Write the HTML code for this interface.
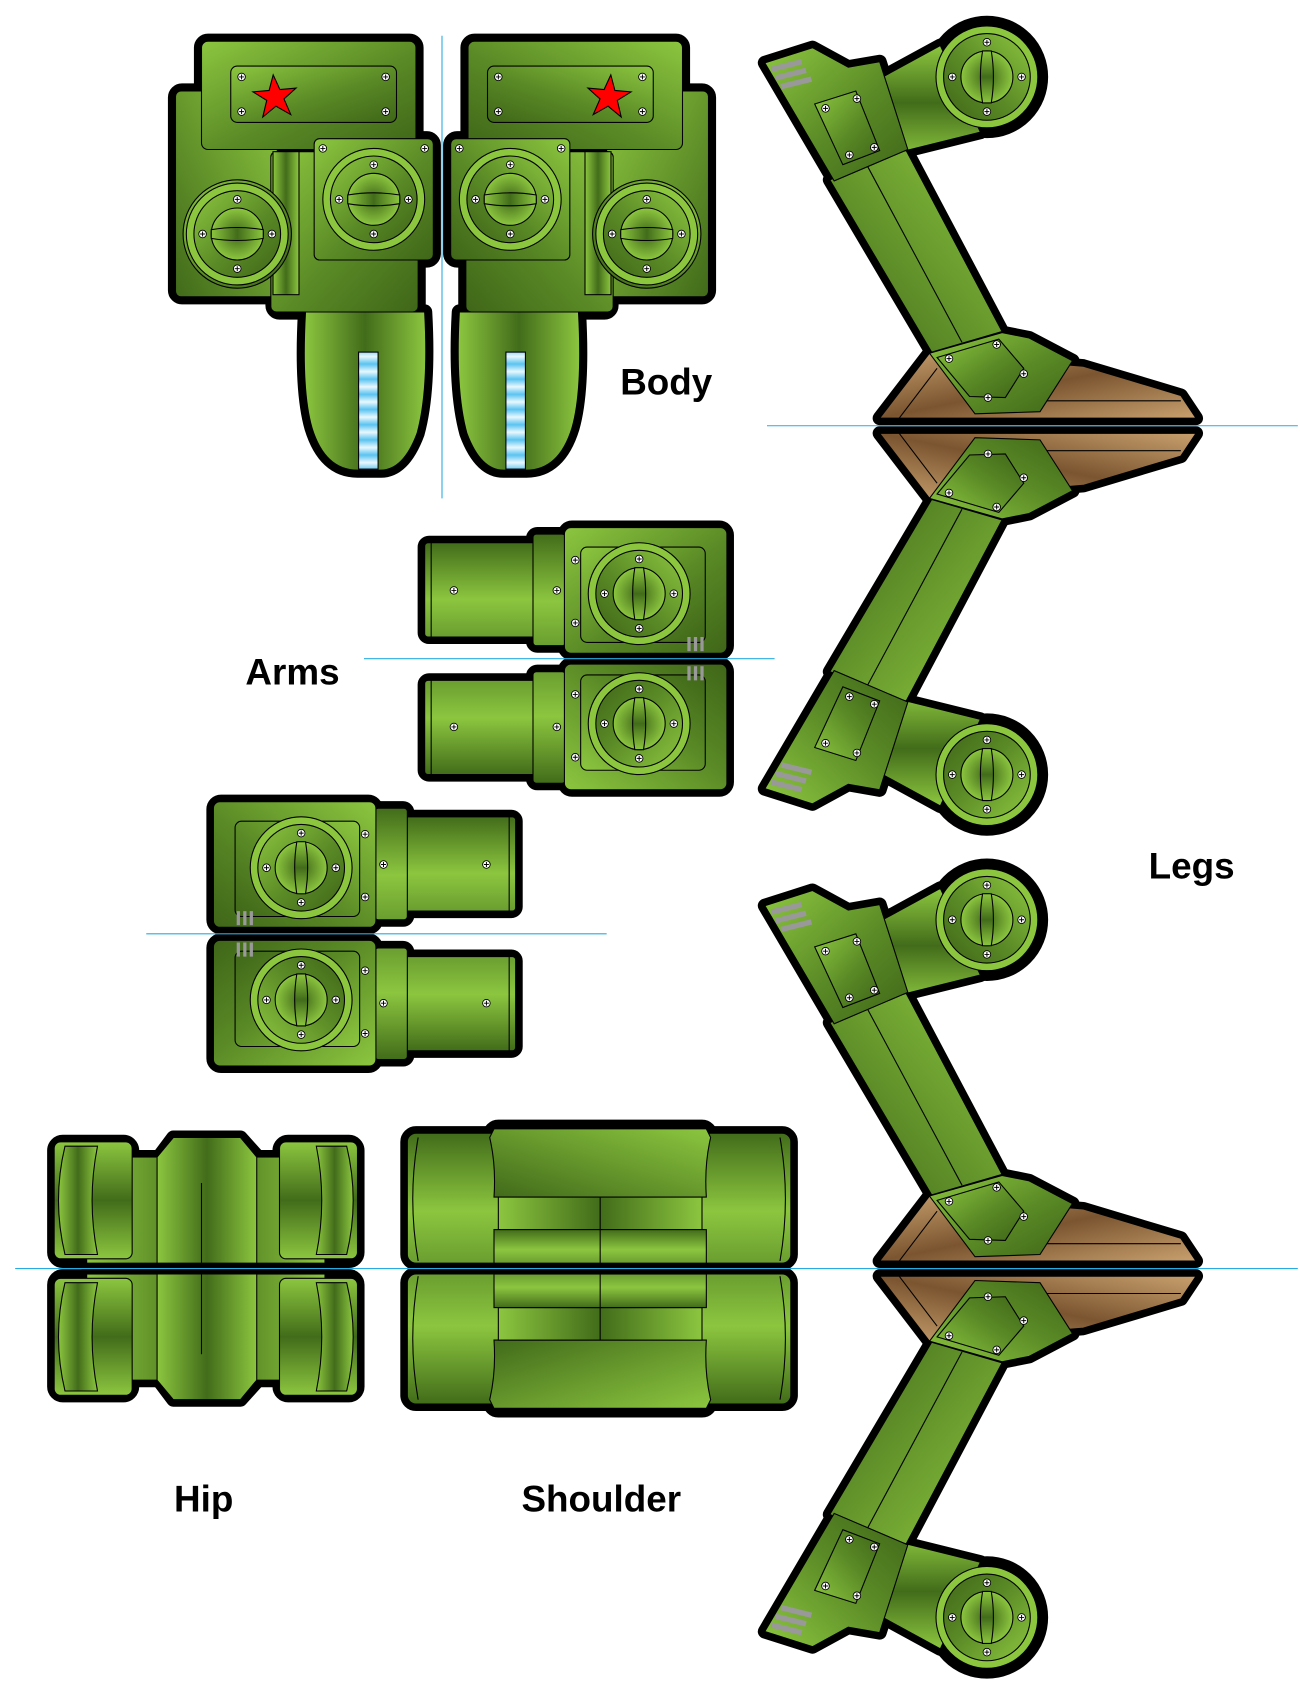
<!DOCTYPE html>
<html><head><meta charset="utf-8"><style>html,body{margin:0;padding:0;background:#fff}svg{display:block}</style></head>
<body>
<svg width="1300" height="1700" viewBox="0 0 1200 1569.2" xmlns="http://www.w3.org/2000/svg" xmlns:xlink="http://www.w3.org/1999/xlink">
<defs>
<linearGradient id="gD" x1="0" y1="0" x2="1" y2="1"><stop offset="0" stop-color="#8cc63f"/><stop offset="0.55" stop-color="#5a8a26"/><stop offset="1" stop-color="#3f6618"/></linearGradient>
<linearGradient id="gD2" x1="1" y1="0" x2="0" y2="1"><stop offset="0" stop-color="#8cc63f"/><stop offset="1" stop-color="#416a1a"/></linearGradient>
<linearGradient id="gH" x1="0" y1="0" x2="1" y2="0"><stop offset="0" stop-color="#8cc63f"/><stop offset="0.5" stop-color="#426c1a"/><stop offset="1" stop-color="#8cc63f"/></linearGradient>
<linearGradient id="gV" x1="0" y1="0" x2="0" y2="1"><stop offset="0" stop-color="#8cc63f"/><stop offset="0.5" stop-color="#426c1a"/><stop offset="1" stop-color="#8cc63f"/></linearGradient>
<linearGradient id="gV2" x1="0" y1="0" x2="0" y2="1"><stop offset="0" stop-color="#426c1a"/><stop offset="0.6" stop-color="#8cc63f"/><stop offset="1" stop-color="#6a9e30"/></linearGradient>
<linearGradient id="gB" x1="0" y1="0" x2="1" y2="1"><stop offset="0" stop-color="#c8a06e"/><stop offset="0.5" stop-color="#7b5530"/><stop offset="1" stop-color="#c8a06e"/></linearGradient>
<linearGradient id="gBlue" x1="0" y1="0" x2="0" y2="14" spreadMethod="repeat" gradientUnits="userSpaceOnUse"><stop offset="0" stop-color="#5bc3f0"/><stop offset="0.5" stop-color="#e8f8ff"/><stop offset="1" stop-color="#5bc3f0"/></linearGradient>
<radialGradient id="gR" cx="0.5" cy="0.5" r="0.5"><stop offset="0" stop-color="#3f6618"/><stop offset="1" stop-color="#8cc63f"/></radialGradient>
<g id="screw"><circle r="3.5" fill="#fff" stroke="#000" stroke-width="0.8"/><path d="M-2.3 0H2.3M0 -2.3V2.3" stroke="#000" stroke-width="0.9"/></g>
<g id="bdisk">
<circle r="47" fill="#8cc63f" stroke="#000" stroke-width="1"/>
<circle r="40" fill="url(#gD)" stroke="#000" stroke-width="1"/>
<circle r="24" fill="url(#gR)" stroke="#000" stroke-width="1"/>
<path d="M-24 -4 Q0 -8 24 -4 L24 4 Q0 8 -24 4 Z" fill="url(#gH)" stroke="#000" stroke-width="1"/>
<use href="#screw" x="0" y="-32"/><use href="#screw" x="0" y="32"/><use href="#screw" x="-32" y="0"/><use href="#screw" x="32" y="0"/>
</g>
</defs>

<!-- BODY -->
<g id="body">
<g stroke="#000" stroke-width="14" stroke-linejoin="round" fill="#000">
<rect x="162" y="84" width="94" height="190" rx="6"/>
<rect x="252" y="140" width="134" height="148" rx="6"/>
<rect x="186" y="38" width="198" height="100" rx="6"/>
<rect x="290" y="128" width="110" height="112" rx="6"/>
<path d="M282 288 H392 Q396 360 385 400 Q372 435 350 434 H330 Q300 434 288 395 Q278 360 282 288Z"/>
</g>
<rect x="162" y="84" width="94" height="190" rx="5" fill="url(#gD2)" stroke="#000"/>
<rect x="250" y="140" width="136" height="148" rx="5" fill="url(#gD)" stroke="#000"/>
<rect x="252" y="140" width="24" height="132" fill="url(#gH)" stroke="#000"/>
<path d="M282 288 H392 Q396 360 385 400 Q372 435 350 434 H330 Q300 434 288 395 Q278 360 282 288Z" fill="url(#gH)" stroke="#000"/>
<rect x="331" y="325" width="18" height="108" fill="url(#gBlue)" stroke="#000"/>
<rect x="186" y="38" width="198" height="100" rx="6" fill="url(#gD)" stroke="#000"/>
<rect x="213" y="61" width="153" height="52" rx="6" fill="url(#gD)" stroke="#000"/>
<path d="M254 69 L259 83 L274 83 L262 92 L267 107 L254 98 L241 107 L246 92 L234 83 L249 83Z" transform="rotate(-5 254 90)" fill="#f00" stroke="#000"/>
<use href="#screw" x="223" y="71"/><use href="#screw" x="356" y="71"/><use href="#screw" x="223" y="103"/><use href="#screw" x="356" y="103"/>
<rect x="290" y="128" width="110" height="112" rx="5" fill="url(#gD)" stroke="#000"/>
<use href="#screw" x="298" y="137"/><use href="#screw" x="392" y="137"/>
<use href="#bdisk" x="345" y="184"/>
<circle cx="219" cy="216" r="50" fill="url(#gD)" stroke="#000"/>
<use href="#bdisk" x="219" y="216"/>
</g>
<use href="#body" transform="translate(816,0) scale(-1,1)"/>
<line x1="408" y1="33" x2="408" y2="460" stroke="#29abe2" stroke-width="1"/>

<!-- ARMS -->
<g id="arm">
<g stroke="#000" stroke-width="13" stroke-linejoin="round" fill="#000">
<rect x="392" y="501" width="135" height="87" rx="4"/>
<rect x="492" y="493" width="40" height="103" rx="4"/>
<rect x="521" y="487" width="150" height="116" rx="7"/>
</g>
<rect x="392" y="501" width="135" height="87" rx="3" fill="url(#gV2)" stroke="#000"/>
<line x1="398" y1="501" x2="398" y2="588" stroke="#000"/>
<rect x="492" y="493" width="30" height="103" rx="3" fill="url(#gV2)" stroke="#000"/>
<use href="#screw" x="419" y="545"/><use href="#screw" x="514" y="545"/>
<rect x="521" y="487" width="150" height="116" rx="6" fill="url(#gD)" stroke="#000"/>
<rect x="536" y="505" width="115" height="88" rx="6" fill="url(#gD)" stroke="#000"/>
<use href="#screw" x="531" y="517"/><use href="#screw" x="531" y="575"/>
<g transform="translate(590,548) rotate(90)"><use href="#bdisk"/></g>
<path d="M636 588v13M642 588v13M648 588v13" stroke="#999" stroke-width="3"/>
</g>
<use href="#arm" transform="translate(0,1216) scale(1,-1)"/>
<g id="arm2"><use href="#arm" transform="translate(868,253) scale(-1,1)"/></g>
<use href="#arm2" transform="translate(0,1724) scale(1,-1)"/>
<line x1="336" y1="608" x2="715" y2="608" stroke="#29abe2"/>
<line x1="135" y1="862" x2="560" y2="862" stroke="#29abe2"/>

<!-- LEGS -->
<g id="leg">
<g stroke="#000" stroke-width="13" stroke-linejoin="round" fill="#000">
<polygon points="812,386 858,326 900,330 1000,338 1090,365 1104,386"/>
<polygon points="766,166 836,138 925,306 860,325"/>
<polygon points="780,90 868,42 905,122 800,148"/>
<polygon points="706,58 750,44 783,62 812,57 838,138 770,167"/>
<polygon points="858,326 925,307 950,312 990,333 960,380 900,382"/>
<circle cx="911" cy="71" r="50"/>
</g>
<polygon points="812,386 858,326 900,330 1000,338 1090,365 1104,386" fill="url(#gB)" stroke="#000"/>
<line x1="960" y1="370" x2="1090" y2="370" stroke="#000"/>
<line x1="830" y1="386" x2="865" y2="340" stroke="#000"/>
<polygon points="766,166 836,138 925,306 860,325" fill="url(#gD2)" stroke="#000"/>
<line x1="800" y1="152" x2="888" y2="316" stroke="#000"/>
<polygon points="780,90 868,42 905,122 800,148" fill="url(#gV)" stroke="#000"/>
<polygon points="706,58 750,44 783,62 812,57 838,138 770,167" fill="url(#gD)" stroke="#000"/>
<path d="M712 64l28-7M716 72l28-7M721 80l28-7" stroke="#999" stroke-width="5"/>
<polygon points="752,96 790,84 812,139 778,152" fill="url(#gD)" stroke="#000"/>
<use href="#screw" x="762" y="100"/><use href="#screw" x="791" y="91"/><use href="#screw" x="784" y="143"/><use href="#screw" x="807" y="136"/>
<polygon points="858,326 925,307 950,312 990,333 960,380 900,382" fill="url(#gD)" stroke="#000"/>
<polygon points="865,330 922,313 945,340 928,367 895,366" fill="url(#gD)" stroke="#000"/>
<use href="#screw" x="876" y="331"/><use href="#screw" x="920" y="318"/><use href="#screw" x="945" y="345"/><use href="#screw" x="912" y="367"/>
<g transform="translate(911,71) rotate(90)"><use href="#bdisk"/></g>
</g>
<use href="#leg" transform="translate(0,786) scale(1,-1)"/>
<use href="#leg" transform="translate(0,778)"/>
<use href="#leg" transform="translate(0,1564) scale(1,-1)"/>
<line x1="708" y1="393" x2="1198" y2="393" stroke="#29abe2"/>

<!-- HIP -->
<g id="hip">
<g stroke="#000" stroke-width="13" stroke-linejoin="round" fill="#000">
<rect x="50" y="1054" width="72" height="110" rx="8"/>
<rect x="258" y="1054" width="72" height="110" rx="8"/>
<rect x="80" y="1068" width="220" height="98"/>
<polygon points="160,1050 222,1050 240,1070 240,1166 145,1166 145,1070"/>
</g>
<rect x="80" y="1068" width="220" height="98" fill="url(#gH)" stroke="#000"/>
<polygon points="160,1050 222,1050 237,1068 237,1166 145,1166 145,1068" fill="url(#gH)" stroke="#000"/>
<line x1="186" y1="1092" x2="186" y2="1166" stroke="#000"/>
<rect x="50" y="1054" width="72" height="108" rx="6" fill="url(#gV)" stroke="#000"/>
<path d="M60 1058 Q48 1108 60 1158 H90 Q80 1108 90 1058Z" fill="url(#gH)" stroke="#000"/>
<rect x="258" y="1054" width="72" height="108" rx="6" fill="url(#gV)" stroke="#000"/>
<path d="M320 1058 Q332 1108 320 1158 H292 Q302 1108 292 1058Z" fill="url(#gH)" stroke="#000"/>
</g>
<use href="#hip" transform="translate(0,2342) scale(1,-1)"/>

<!-- SHOULDER -->
<g id="sh">
<g stroke="#000" stroke-width="13" stroke-linejoin="round" fill="#000">
<rect x="376" y="1046" width="354" height="120" rx="8"/>
<rect x="452" y="1040" width="204" height="126" rx="8"/>
</g>
<rect x="376" y="1046" width="354" height="120" rx="8" fill="url(#gV2)" stroke="#000"/>
<path d="M386 1050 Q376 1106 386 1164M720 1050 Q730 1106 720 1164" fill="none" stroke="#000"/>
<path d="M456 1042 H652 L656 1050 Q650 1075 652 1105 H456 Q458 1075 452 1050Z" fill="url(#gD2)" stroke="#000"/>
<rect x="460" y="1105" width="188" height="30" fill="url(#gH)" stroke="#000"/>
<rect x="456" y="1135" width="196" height="31" fill="url(#gV2)" stroke="#000"/>
<line x1="554" y1="1105" x2="554" y2="1166" stroke="#000"/>
</g>
<use href="#sh" transform="translate(0,2342) scale(1,-1)"/>
<line x1="14" y1="1171" x2="1198" y2="1171" stroke="#29abe2"/>

<g font-family="Liberation Sans, sans-serif" font-weight="bold" font-size="34" fill="#000" text-anchor="middle">
<text x="615" y="364">Body</text>
<text x="270" y="632">Arms</text>
<text x="1100" y="811">Legs</text>
<text x="188" y="1395">Hip</text>
<text x="555" y="1395">Shoulder</text>
</g>
</svg>
</body></html>
